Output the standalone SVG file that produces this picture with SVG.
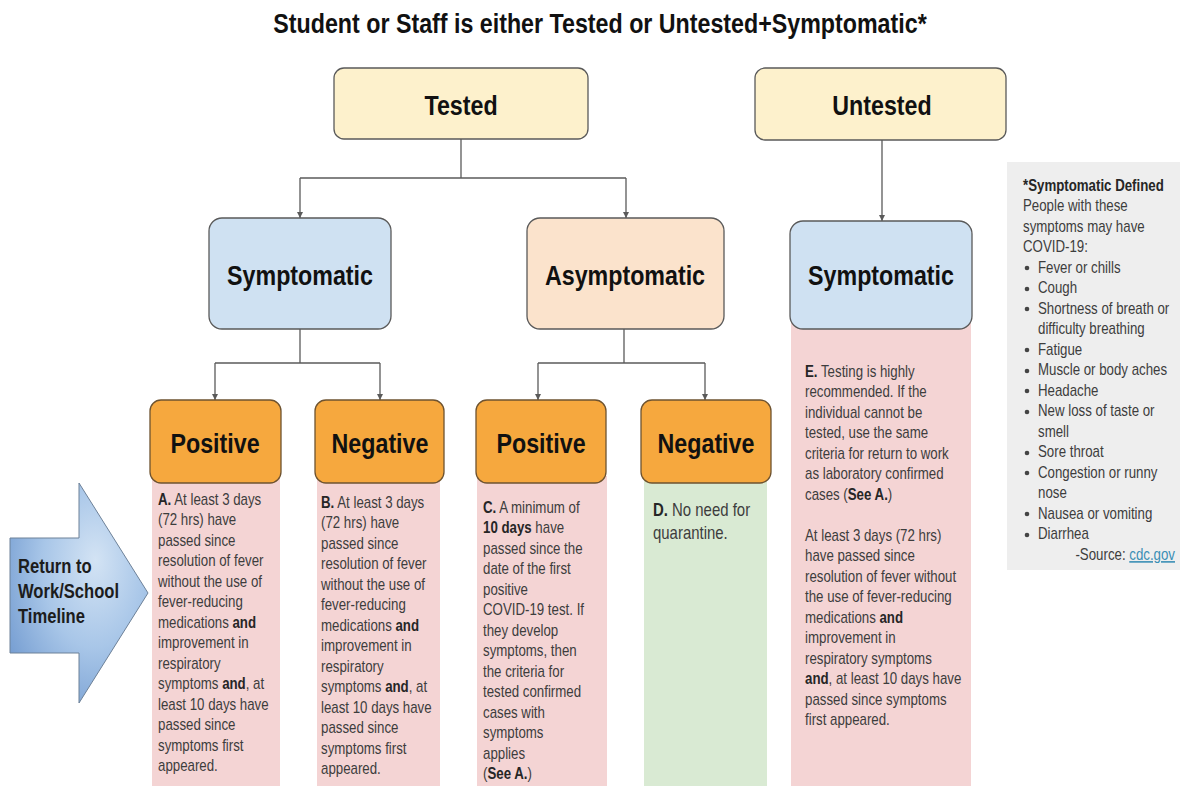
<svg xmlns="http://www.w3.org/2000/svg" width="1180" height="786" viewBox="0 0 1180 786">
  <defs>
    <style>
      text { font-family: "Liberation Sans", Arial, sans-serif; }
      .title { font-size: 28px; font-weight: bold; fill: #111; text-anchor: middle; }
      .lbl { font-size: 28px; font-weight: bold; fill: #111; text-anchor: middle; }
      .body { font-size: 16px; fill: #3d3d3d; }
      .big { font-size: 18px; fill: #3d3d3d; }
      .b { font-weight: bold; fill: #262626; }
      .arrowtxt { font-size: 20px; font-weight: bold; fill: #1c1c1c; }
      .link { fill: #3b8fb5; text-decoration: underline; }
      .box { stroke: #5a5a5a; stroke-width: 1.3; }
      .yellow { fill: #fdf1cc; }
      .blue { fill: #cfe1f2; }
      .peach { fill: #fbe3cc; }
      .orange { fill: #f6a83e; stroke: #6e5330; stroke-width: 1.3; }
      .pink { fill: #f4d4d4; }
      .green { fill: #d9ead3; }
      .conn { fill: none; stroke: #5a5a5a; stroke-width: 1.3; }
      .dot { fill: #444; }
    </style>
    <marker id="head" markerWidth="7" markerHeight="7" refX="6" refY="3" orient="auto" markerUnits="userSpaceOnUse">
      <path d="M0,0 L6,3 L0,6 z" fill="#5a5a5a"/>
    </marker>
    <radialGradient id="arrowFill" cx="0.6" cy="0.4" r="0.75" fx="0.62" fy="0.35">
      <stop offset="0" stop-color="#d3e3f4"/>
      <stop offset="0.5" stop-color="#a8c6e8"/>
      <stop offset="1" stop-color="#7099cf"/>
    </radialGradient>
  </defs>

  <rect width="1180" height="786" fill="#ffffff"/>

  <!-- heading -->
  <text class="title" transform="translate(600 33) scale(0.83 1)" x="0" y="0">Student or Staff is either Tested or Untested+Symptomatic*</text>

  <!-- connectors -->
  <g id="connectors">
    <path class="conn" d="M461,139 V178"/>
    <path class="conn" d="M300,178 H626"/>
    <path class="conn" d="M300,178 V218" marker-end="url(#head)"/>
    <path class="conn" d="M626,178 V218" marker-end="url(#head)"/>
    <path class="conn" d="M882,140 V221" marker-end="url(#head)"/>
    <path class="conn" d="M300,329 V363"/>
    <path class="conn" d="M215,363 H380"/>
    <path class="conn" d="M215,363 V400" marker-end="url(#head)"/>
    <path class="conn" d="M380,363 V400" marker-end="url(#head)"/>
    <path class="conn" d="M624,329 V363"/>
    <path class="conn" d="M538,363 H705"/>
    <path class="conn" d="M538,363 V400" marker-end="url(#head)"/>
    <path class="conn" d="M705,363 V400" marker-end="url(#head)"/>
  </g>

  <g id="tested">
    <rect class="box yellow" x="334" y="68" width="254" height="71" rx="10"/>
    <text class="lbl" transform="translate(461 115) scale(0.83 1)">Tested</text>
  </g>

  <g id="untested">
    <rect class="box yellow" x="755" y="68" width="251" height="72" rx="10"/>
    <text class="lbl" transform="translate(882 115) scale(0.83 1)">Untested</text>
  </g>

  <g id="tested-symptomatic">
    <rect class="box blue" x="209" y="218" width="182" height="111" rx="13"/>
    <text class="lbl" transform="translate(300 285) scale(0.83 1)">Symptomatic</text>
  </g>

  <g id="tested-asymptomatic">
    <rect class="box peach" x="527" y="218" width="197" height="111" rx="13"/>
    <text class="lbl" transform="translate(625 285) scale(0.83 1)">Asymptomatic</text>
  </g>

  <!-- untested symptomatic with its criteria column -->
  <g id="untested-symptomatic">
    <rect class="pink" x="791" y="320" width="180" height="466"/>
    <rect class="box blue" x="790" y="221" width="182" height="108" rx="13"/>
    <text class="lbl" transform="translate(881 285) scale(0.83 1)">Symptomatic</text>
    <text class="body" transform="translate(805 377) scale(0.83 1)">
      <tspan x="0" y="0"><tspan class="b">E.</tspan> Testing is highly</tspan>
      <tspan x="0" y="20.5">recommended. If the</tspan>
      <tspan x="0" y="41">individual cannot be</tspan>
      <tspan x="0" y="61.5">tested, use the same</tspan>
      <tspan x="0" y="82">criteria for return to work</tspan>
      <tspan x="0" y="102.5">as laboratory confirmed</tspan>
      <tspan x="0" y="123">cases (<tspan class="b">See A.</tspan>)</tspan>
      <tspan x="0" y="164">At least 3 days (72 hrs)</tspan>
      <tspan x="0" y="184.5">have passed since</tspan>
      <tspan x="0" y="205">resolution of fever without</tspan>
      <tspan x="0" y="225.5">the use of fever-reducing</tspan>
      <tspan x="0" y="246">medications <tspan class="b">and</tspan></tspan>
      <tspan x="0" y="266.5">improvement in</tspan>
      <tspan x="0" y="287">respiratory symptoms</tspan>
      <tspan x="0" y="307.5"><tspan class="b">and</tspan>, at least 10 days have</tspan>
      <tspan x="0" y="328">passed since symptoms</tspan>
      <tspan x="0" y="348.5">first appeared.</tspan>
    </text>
  </g>

  <g id="symptomatic-positive">
    <rect class="pink" x="152" y="476" width="128" height="310"/>
    <rect class="orange" x="150" y="400" width="131" height="83" rx="11"/>
    <text class="lbl" transform="translate(215 453) scale(0.83 1)">Positive</text>
    <text class="body" transform="translate(158 505) scale(0.83 1)">
      <tspan x="0" y="0"><tspan class="b">A.</tspan> At least 3 days</tspan>
      <tspan x="0" y="20.5">(72 hrs) have</tspan>
      <tspan x="0" y="41">passed since</tspan>
      <tspan x="0" y="61.5">resolution of fever</tspan>
      <tspan x="0" y="82">without the use of</tspan>
      <tspan x="0" y="102.5">fever-reducing</tspan>
      <tspan x="0" y="123">medications <tspan class="b">and</tspan></tspan>
      <tspan x="0" y="143.5">improvement in</tspan>
      <tspan x="0" y="164">respiratory</tspan>
      <tspan x="0" y="184.5">symptoms <tspan class="b">and</tspan>, at</tspan>
      <tspan x="0" y="205">least 10 days have</tspan>
      <tspan x="0" y="225.5">passed since</tspan>
      <tspan x="0" y="246">symptoms first</tspan>
      <tspan x="0" y="266.5">appeared.</tspan>
    </text>
  </g>

  <g id="symptomatic-negative">
    <rect class="pink" x="317" y="476" width="123" height="310"/>
    <rect class="orange" x="315" y="400" width="129" height="83" rx="11"/>
    <text class="lbl" transform="translate(380 453) scale(0.83 1)">Negative</text>
    <text class="body" transform="translate(321 508) scale(0.83 1)">
      <tspan x="0" y="0"><tspan class="b">B.</tspan> At least 3 days</tspan>
      <tspan x="0" y="20.5">(72 hrs) have</tspan>
      <tspan x="0" y="41">passed since</tspan>
      <tspan x="0" y="61.5">resolution of fever</tspan>
      <tspan x="0" y="82">without the use of</tspan>
      <tspan x="0" y="102.5">fever-reducing</tspan>
      <tspan x="0" y="123">medications <tspan class="b">and</tspan></tspan>
      <tspan x="0" y="143.5">improvement in</tspan>
      <tspan x="0" y="164">respiratory</tspan>
      <tspan x="0" y="184.5">symptoms <tspan class="b">and</tspan>, at</tspan>
      <tspan x="0" y="205">least 10 days have</tspan>
      <tspan x="0" y="225.5">passed since</tspan>
      <tspan x="0" y="246">symptoms first</tspan>
      <tspan x="0" y="266.5">appeared.</tspan>
    </text>
  </g>

  <g id="asymptomatic-positive">
    <rect class="pink" x="477" y="476" width="130" height="310"/>
    <rect class="orange" x="476" y="400" width="130" height="83" rx="11"/>
    <text class="lbl" transform="translate(541 453) scale(0.83 1)">Positive</text>
    <text class="body" transform="translate(483 513) scale(0.83 1)">
      <tspan x="0" y="0"><tspan class="b">C.</tspan> A minimum of</tspan>
      <tspan x="0" y="20.5"><tspan class="b">10 days</tspan> have</tspan>
      <tspan x="0" y="41">passed since the</tspan>
      <tspan x="0" y="61.5">date of the first</tspan>
      <tspan x="0" y="82">positive</tspan>
      <tspan x="0" y="102.5">COVID-19 test. If</tspan>
      <tspan x="0" y="123">they develop</tspan>
      <tspan x="0" y="143.5">symptoms, then</tspan>
      <tspan x="0" y="164">the criteria for</tspan>
      <tspan x="0" y="184.5">tested confirmed</tspan>
      <tspan x="0" y="205">cases with</tspan>
      <tspan x="0" y="225.5">symptoms</tspan>
      <tspan x="0" y="246">applies</tspan>
      <tspan x="0" y="266.5">(<tspan class="b">See A.</tspan>)</tspan>
    </text>
  </g>

  <g id="asymptomatic-negative">
    <rect class="green" x="644" y="476" width="123" height="310"/>
    <rect class="orange" x="641" y="400" width="130" height="83" rx="11"/>
    <text class="lbl" transform="translate(706 453) scale(0.83 1)">Negative</text>
    <text class="big" transform="translate(653 516) scale(0.83 1)">
      <tspan x="0" y="0"><tspan class="b">D.</tspan> No need for</tspan>
      <tspan x="0" y="23">quarantine.</tspan>
    </text>
  </g>

  <!-- timeline arrow on the left -->
  <g id="timeline-arrow">
    <polygon points="10,538 79,538 79,483 148,593 79,703 79,653 10,653" fill="url(#arrowFill)" stroke="#6d8198" stroke-width="1"/>
    <text class="arrowtxt" transform="translate(18 573) scale(0.83 1)">
      <tspan x="0" y="0">Return to</tspan>
      <tspan x="0" y="25">Work/School</tspan>
      <tspan x="0" y="50">Timeline</tspan>
    </text>
  </g>

  <!-- symptom definition panel -->
  <g id="symptom-legend">
    <rect x="1007" y="162" width="173" height="408" fill="#eeeeee"/>
    <text class="body" transform="translate(1023 191) scale(0.83 1)">
      <tspan class="b" x="0" y="0">*Symptomatic Defined</tspan>
      <tspan x="0" y="20.5">People with these</tspan>
      <tspan x="0" y="41">symptoms may have</tspan>
      <tspan x="0" y="61.5">COVID-19:</tspan>
    </text>
    <g class="dot">
      <circle cx="1027" cy="268" r="2.3"/>
      <circle cx="1027" cy="289" r="2.3"/>
      <circle cx="1027" cy="309" r="2.3"/>
      <circle cx="1027" cy="350" r="2.3"/>
      <circle cx="1027" cy="371" r="2.3"/>
      <circle cx="1027" cy="391" r="2.3"/>
      <circle cx="1027" cy="412" r="2.3"/>
      <circle cx="1027" cy="453" r="2.3"/>
      <circle cx="1027" cy="473" r="2.3"/>
      <circle cx="1027" cy="514" r="2.3"/>
      <circle cx="1027" cy="535" r="2.3"/>
    </g>
    <text class="body" transform="translate(1038 273) scale(0.83 1)">
      <tspan x="0" y="0">Fever or chills</tspan>
      <tspan x="0" y="20.5">Cough</tspan>
      <tspan x="0" y="41">Shortness of breath or</tspan>
      <tspan x="0" y="61.5">difficulty breathing</tspan>
      <tspan x="0" y="82">Fatigue</tspan>
      <tspan x="0" y="102.5">Muscle or body aches</tspan>
      <tspan x="0" y="123">Headache</tspan>
      <tspan x="0" y="143.5">New loss of taste or</tspan>
      <tspan x="0" y="164">smell</tspan>
      <tspan x="0" y="184.5">Sore throat</tspan>
      <tspan x="0" y="205">Congestion or runny</tspan>
      <tspan x="0" y="225.5">nose</tspan>
      <tspan x="0" y="246">Nausea or vomiting</tspan>
      <tspan x="0" y="266.5">Diarrhea</tspan>
    </text>
    <text class="body" transform="translate(1175 560) scale(0.83 1)" text-anchor="end">-Source: <tspan class="link">cdc.gov</tspan></text>
  </g>
</svg>
